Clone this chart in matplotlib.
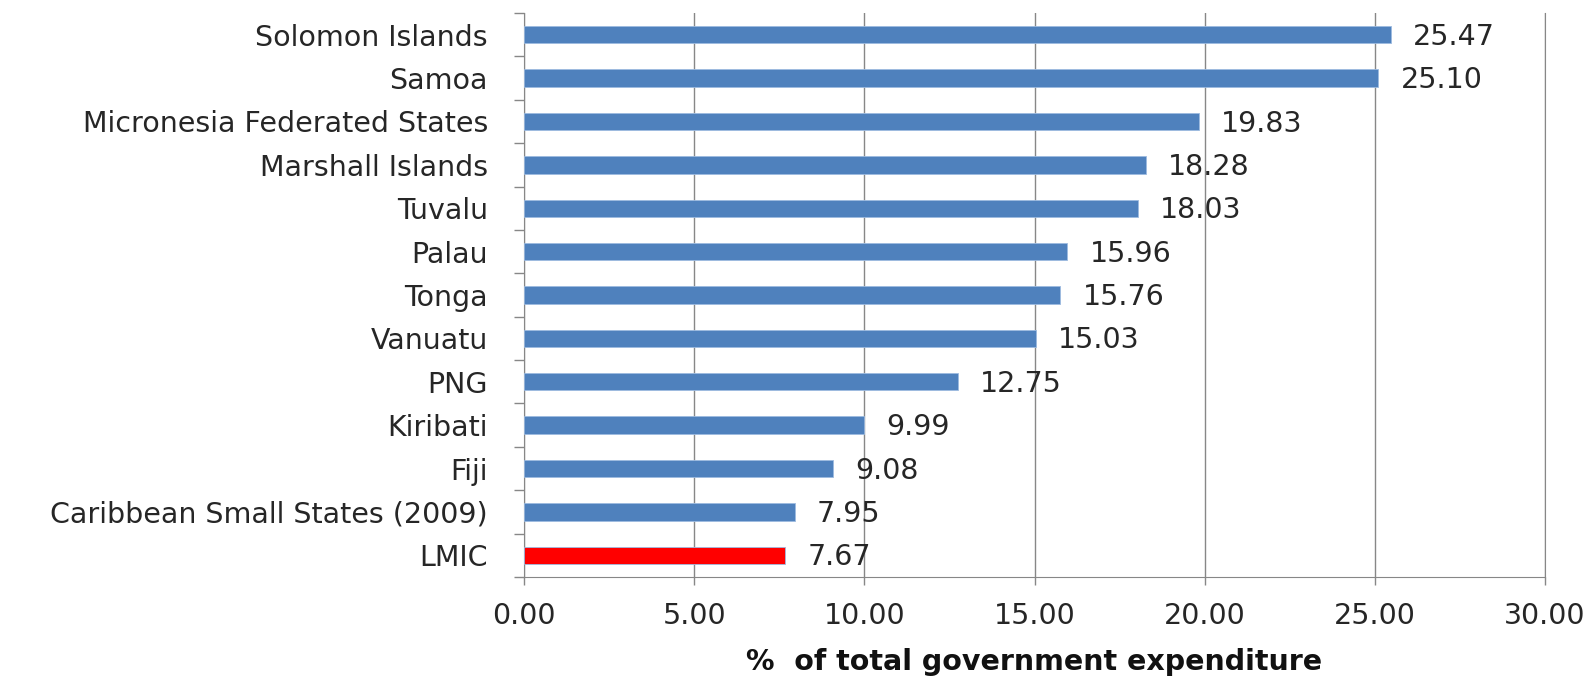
import numpy as np
import matplotlib.pyplot as plt

countries = ["Solomon Islands", "Samoa", "Micronesia Federated States", "Marshall Islands",
             "Tuvalu", "Palau", "Tonga", "Vanuatu", "PNG", "Kiribati", "Fiji",
             "Caribbean Small States (2009)", "LMIC"]
values = [25.47, 25.10, 19.83, 18.28, 18.03, 15.96, 15.76, 15.03, 12.75, 9.99, 9.08, 7.95, 7.67]
xticks = [0, 5, 10, 15, 20, 25, 30]

plt.rcParams['font.family'] = ['DejaVu Sans']
grid_col = '#878787'
text_col = '#262626'

fig = plt.figure(figsize=(15.92, 6.77), dpi=100)
ax = fig.add_axes([524 / 1592, 1 - 577 / 677, (1545 - 524) / 1592, (577 - 13) / 677])

y = np.arange(len(countries))
colors = ['#4F81BD'] * (len(countries) - 1) + ['#FF0000']
ax.barh(y, values, height=0.4, color=colors, edgecolor='#9DBBE0', linewidth=0.6, zorder=3)

# value labels to the right of each bar
for yi, v in zip(y, values):
    ax.annotate(f"{v:.2f}", (v, yi), xytext=(16, -1.5), textcoords='offset points',
                ha='left', va='center', fontsize=20.5, color=text_col)

ax.set_ylim(len(countries) - 0.5, -0.5)
ax.set_xlim(0, 30)
ax.set_xticks(xticks)
ax.set_xticklabels([f"{t:.2f}" for t in xticks], fontsize=20.5, color=text_col)
ax.set_yticks(y)
ax.set_yticklabels(countries, fontsize=20.5, color=text_col)
ax.set_yticks(np.arange(-0.5, len(countries), 1), minor=True)

ax.tick_params(axis='y', which='major', length=0, pad=26)
ax.tick_params(axis='y', which='minor', length=7, color=grid_col, width=1)
ax.tick_params(axis='x', length=6, color=grid_col, width=1, pad=12, direction='out')

ax.grid(axis='x', color=grid_col, linewidth=1, zorder=0)
ax.spines['top'].set_visible(False)
for s in ['left', 'bottom', 'right']:
    ax.spines[s].set_color(grid_col)

fig.text((524 + 1545) / 2 / 1592, 1 - 670 / 677, "%  of total government expenditure",
         ha='center', va='baseline', fontsize=20.5, fontweight='bold', color='#111111')

fig.savefig('out.png', dpi=100)
